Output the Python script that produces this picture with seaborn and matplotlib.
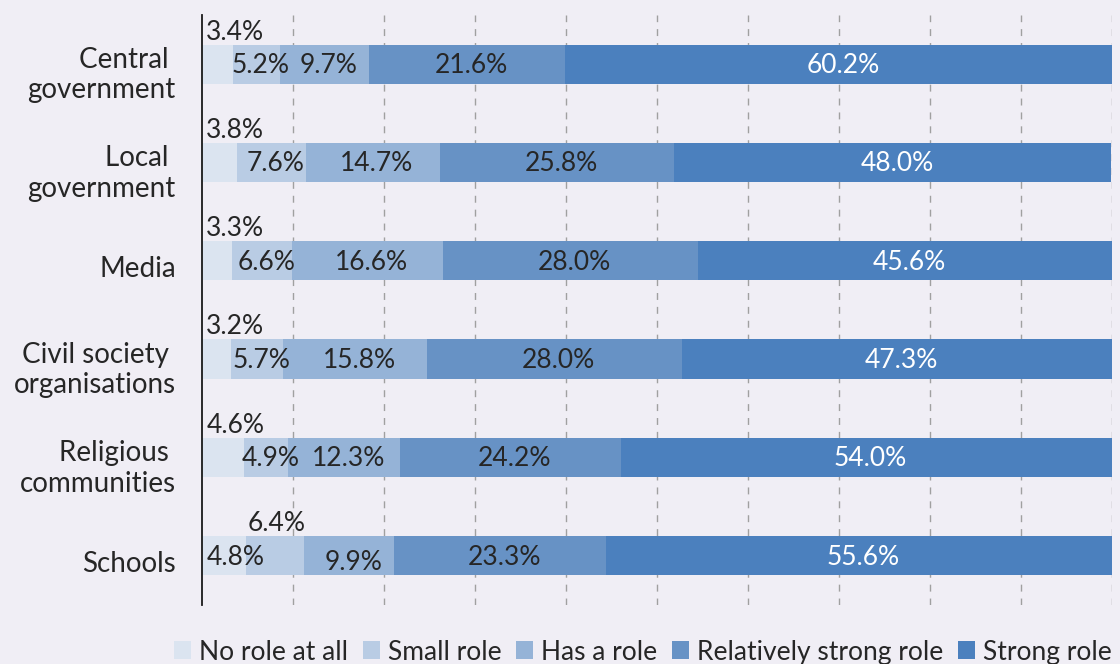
import matplotlib
matplotlib.use("Agg")
import matplotlib.pyplot as plt
from matplotlib.patches import Patch
from matplotlib.transforms import ScaledTranslation
import numpy as np
import pandas as pd
import seaborn as sns

# --- data -------------------------------------------------------------
actors = ["Central \ngovernment", "Local \ngovernment", "Media",
          "Civil society \norganisations", "Religious \ncommunities", "Schools"]
roles = ["No role at all", "Small role", "Has a role",
         "Relatively strong role", "Strong role"]
no_role = [3.4, 3.8, 3.3, 3.2, 4.6, 4.8]
small_role = [5.2, 7.6, 6.6, 5.7, 4.9, 6.4]
has_role = [9.7, 14.7, 16.6, 15.8, 12.3, 9.9]
rel_strong = [21.6, 25.8, 28.0, 28.0, 24.2, 23.3]
strong_role = [60.2, 48.0, 45.6, 47.3, 54.0, 55.6]

series = [no_role, small_role, has_role, rel_strong, strong_role]
colors = ["#dbe4f0", "#b9cce4", "#95b3d7", "#6792c5", "#4b80be"]
text_dark = "#262626"
bg = "#f0eef5"

# --- style ------------------------------------------------------------
sns.set_theme(style="white")
plt.rcParams["font.family"] = ["Lato", "DejaVu Sans"]
plt.rcParams["figure.facecolor"] = bg
plt.rcParams["axes.facecolor"] = bg
FS = 20

fig = plt.figure(figsize=(11.2, 6.64), dpi=100)
ax = fig.add_axes([0.1804, 0.0889, 0.8125, 0.8885])

# stacked bars: draw cumulative totals from the outermost layer inwards
values = np.array(series)
cum = np.cumsum(values, axis=0)
for k in range(len(series) - 1, -1, -1):
    df = pd.DataFrame({"actor": actors, "total": cum[k]})
    sns.barplot(data=df, x="total", y="actor", orient="h", color=colors[k],
                width=0.4, linewidth=0, saturation=1, ax=ax, zorder=2)

ax.set_xlim(0, 100)
ax.set_ylim(len(actors) - 0.5, -0.5)
ax.set_xlabel("")
ax.set_ylabel("")
ax.set_xticks(np.arange(10, 101, 10))
ax.set_xticklabels([])
ax.tick_params(axis="x", length=0)
ax.tick_params(axis="y", length=0, pad=19, labelsize=FS, labelcolor=text_dark)
shift = ScaledTranslation(0, -6 / 100, fig.dpi_scale_trans)
for lab in ax.get_yticklabels():
    lab.set_multialignment("right")
    lab.set_linespacing(1.22)
    lab.set_transform(lab.get_transform() + shift)
ax.xaxis.grid(True, color="#a0a0a0", linestyle=(0, (5, 5)), linewidth=1, zorder=0)
ax.set_axisbelow(True)
for side in ["top", "right", "bottom"]:
    ax.spines[side].set_visible(False)
ax.spines["left"].set_color("#1a1a1a")
ax.spines["left"].set_linewidth(1.3)
ax.spines["left"].set_zorder(3)

# --- value labels -----------------------------------------------------
half = 0.2
# placement of a segment label: "c" centre, "a" above the bar, "l" inside at left,
# "d" centre nudged down
placement = [["a", "c", "c", "c", "c"]] * 5 + [["l", "a", "d", "c", "c"]]
for i in range(len(actors)):
    left = 0.0
    for k in range(len(series)):
        v = values[k, i]
        mid = left + v / 2
        txt = f"{v:.1f}%"
        col = "white" if k == len(series) - 1 else text_dark
        mode = placement[i][k]
        if mode == "a" and k == 0:
            ax.annotate(txt, (left, i - half), xytext=(3, 0), textcoords="offset points",
                        ha="left", va="bottom", fontsize=FS - 1, color=text_dark, zorder=4)
        elif mode == "a":
            ax.annotate(txt, (mid, i - half), xytext=(1, 0), textcoords="offset points",
                        ha="center", va="bottom", fontsize=FS - 1, color=text_dark, zorder=4)
        elif mode == "l":
            ax.annotate(txt, (left, i), xytext=(3, -1), textcoords="offset points",
                        ha="left", va="center", fontsize=FS - 1, color=text_dark, zorder=4)
        else:
            dy = -5 if mode == "d" else -1
            ax.annotate(txt, (mid, i), xytext=(3, dy), textcoords="offset points",
                        ha="center", va="center", fontsize=FS - 1, color=col, zorder=4)
        left += v

# --- legend -----------------------------------------------------------
handles = [Patch(facecolor=c, edgecolor="none") for c in colors]
fig.legend(handles, roles, loc="center", bbox_to_anchor=(0.574, 0.018), ncol=5,
           frameon=False, fontsize=FS - 1, handlelength=0.65, handleheight=0.65,
           handletextpad=0.3, columnspacing=0.55, labelcolor=text_dark)

fig.savefig("out.png", dpi=100, facecolor=bg)
